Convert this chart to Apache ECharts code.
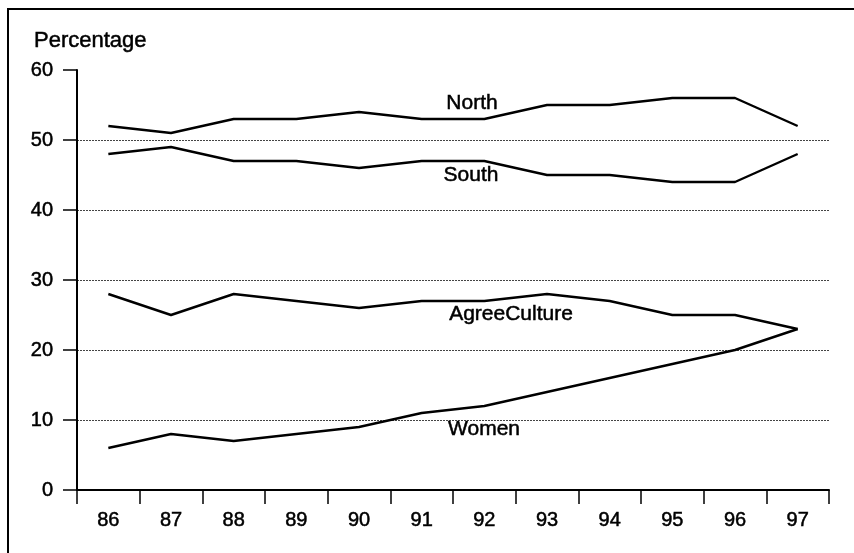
<!DOCTYPE html>
<html>
<head>
<meta charset="utf-8">
<script src="https://cdn.jsdelivr.net/npm/echarts@6/dist/echarts.min.js"></script>
<style>
html,body{margin:0;padding:0;background:#fff;}
#chart{width:854px;height:553px;}
</style>
</head>
<body>
<div id="chart"></div>
<script>
var years = ['86','87','88','89','90','91','92','93','94','95','96','97'];
var north = [52,51,53,53,54,53,53,55,55,56,56,52];
var south = [48,49,47,47,46,47,47,45,45,44,44,48];
var agreeCulture = [28,25,28,27,26,27,27,28,27,25,25,23];
var women = [6,8,7,8,9,11,12,14,16,18,20,23];
var yTicks = [0,10,20,30,40,50,60];

var FONT = '"Liberation Sans", Arial, Helvetica, sans-serif';
var chart = echarts.init(document.getElementById('chart'), null, {renderer:'canvas'});

function lineSeries(name, data){
  return {
    name: name, type: 'line', data: data,
    symbol: 'none', smooth: false, silent: true,
    lineStyle: {color: '#000', width: 2.4},
    z: 5
  };
}

function label(text, x, y, size, align){
  return {type: 'text', x: x, y: y, z: 10, silent: true,
    style: {text: text, font: size + 'px ' + FONT, fill: '#000',
      stroke: '#000', lineWidth: 0.5,
      textAlign: align || 'center', textVerticalAlign: 'middle'}};
}

var option = {
  animation: false,
  backgroundColor: '#fff',
  grid: {left: 77, right: 25, top: 70, bottom: 63, containLabel: false},
  xAxis: {
    type: 'category', data: years, boundaryGap: true,
    axisLine: {lineStyle: {color: '#000', width: 2}},
    axisTick: {show: true, length: 14, lineStyle: {color: '#000', width: 1.5}},
    axisLabel: {color: '#000', fontFamily: FONT, fontSize: 20, margin: 20,
      textBorderColor: '#000', textBorderWidth: 0.5},
    splitLine: {show: false}
  },
  yAxis: {
    type: 'value', min: yTicks[0], max: yTicks[yTicks.length-1], interval: 10,
    axisLine: {show: true, lineStyle: {color: '#000', width: 2}},
    axisTick: {show: true, length: 14, lineStyle: {color: '#000', width: 1.5}},
    axisLabel: {color: '#000', fontFamily: FONT, fontSize: 20, margin: 24,
      textBorderColor: '#000', textBorderWidth: 0.5},
    splitLine: {show: true, showMinLine: false, showMaxLine: false,
      lineStyle: {color: '#444', width: 1, type: [2, 1]}}
  },
  series: [
    lineSeries('North', north),
    lineSeries('South', south),
    lineSeries('AgreeCulture', agreeCulture),
    lineSeries('Women', women)
  ],
  graphic: [
    {type: 'rect', shape: {x: 8, y: 9, width: 900, height: 600},
     style: {fill: 'none', stroke: '#000', lineWidth: 2}, z: 0, silent: true},
    label('Percentage', 34, 41, 22, 'left'),
    label('North', 472, 103, 21),
    label('South', 471, 175, 21),
    label('AgreeCulture', 511, 314, 21),
    label('Women', 484, 429, 21)
  ]
};
chart.setOption(option);
</script>
</body>
</html>
